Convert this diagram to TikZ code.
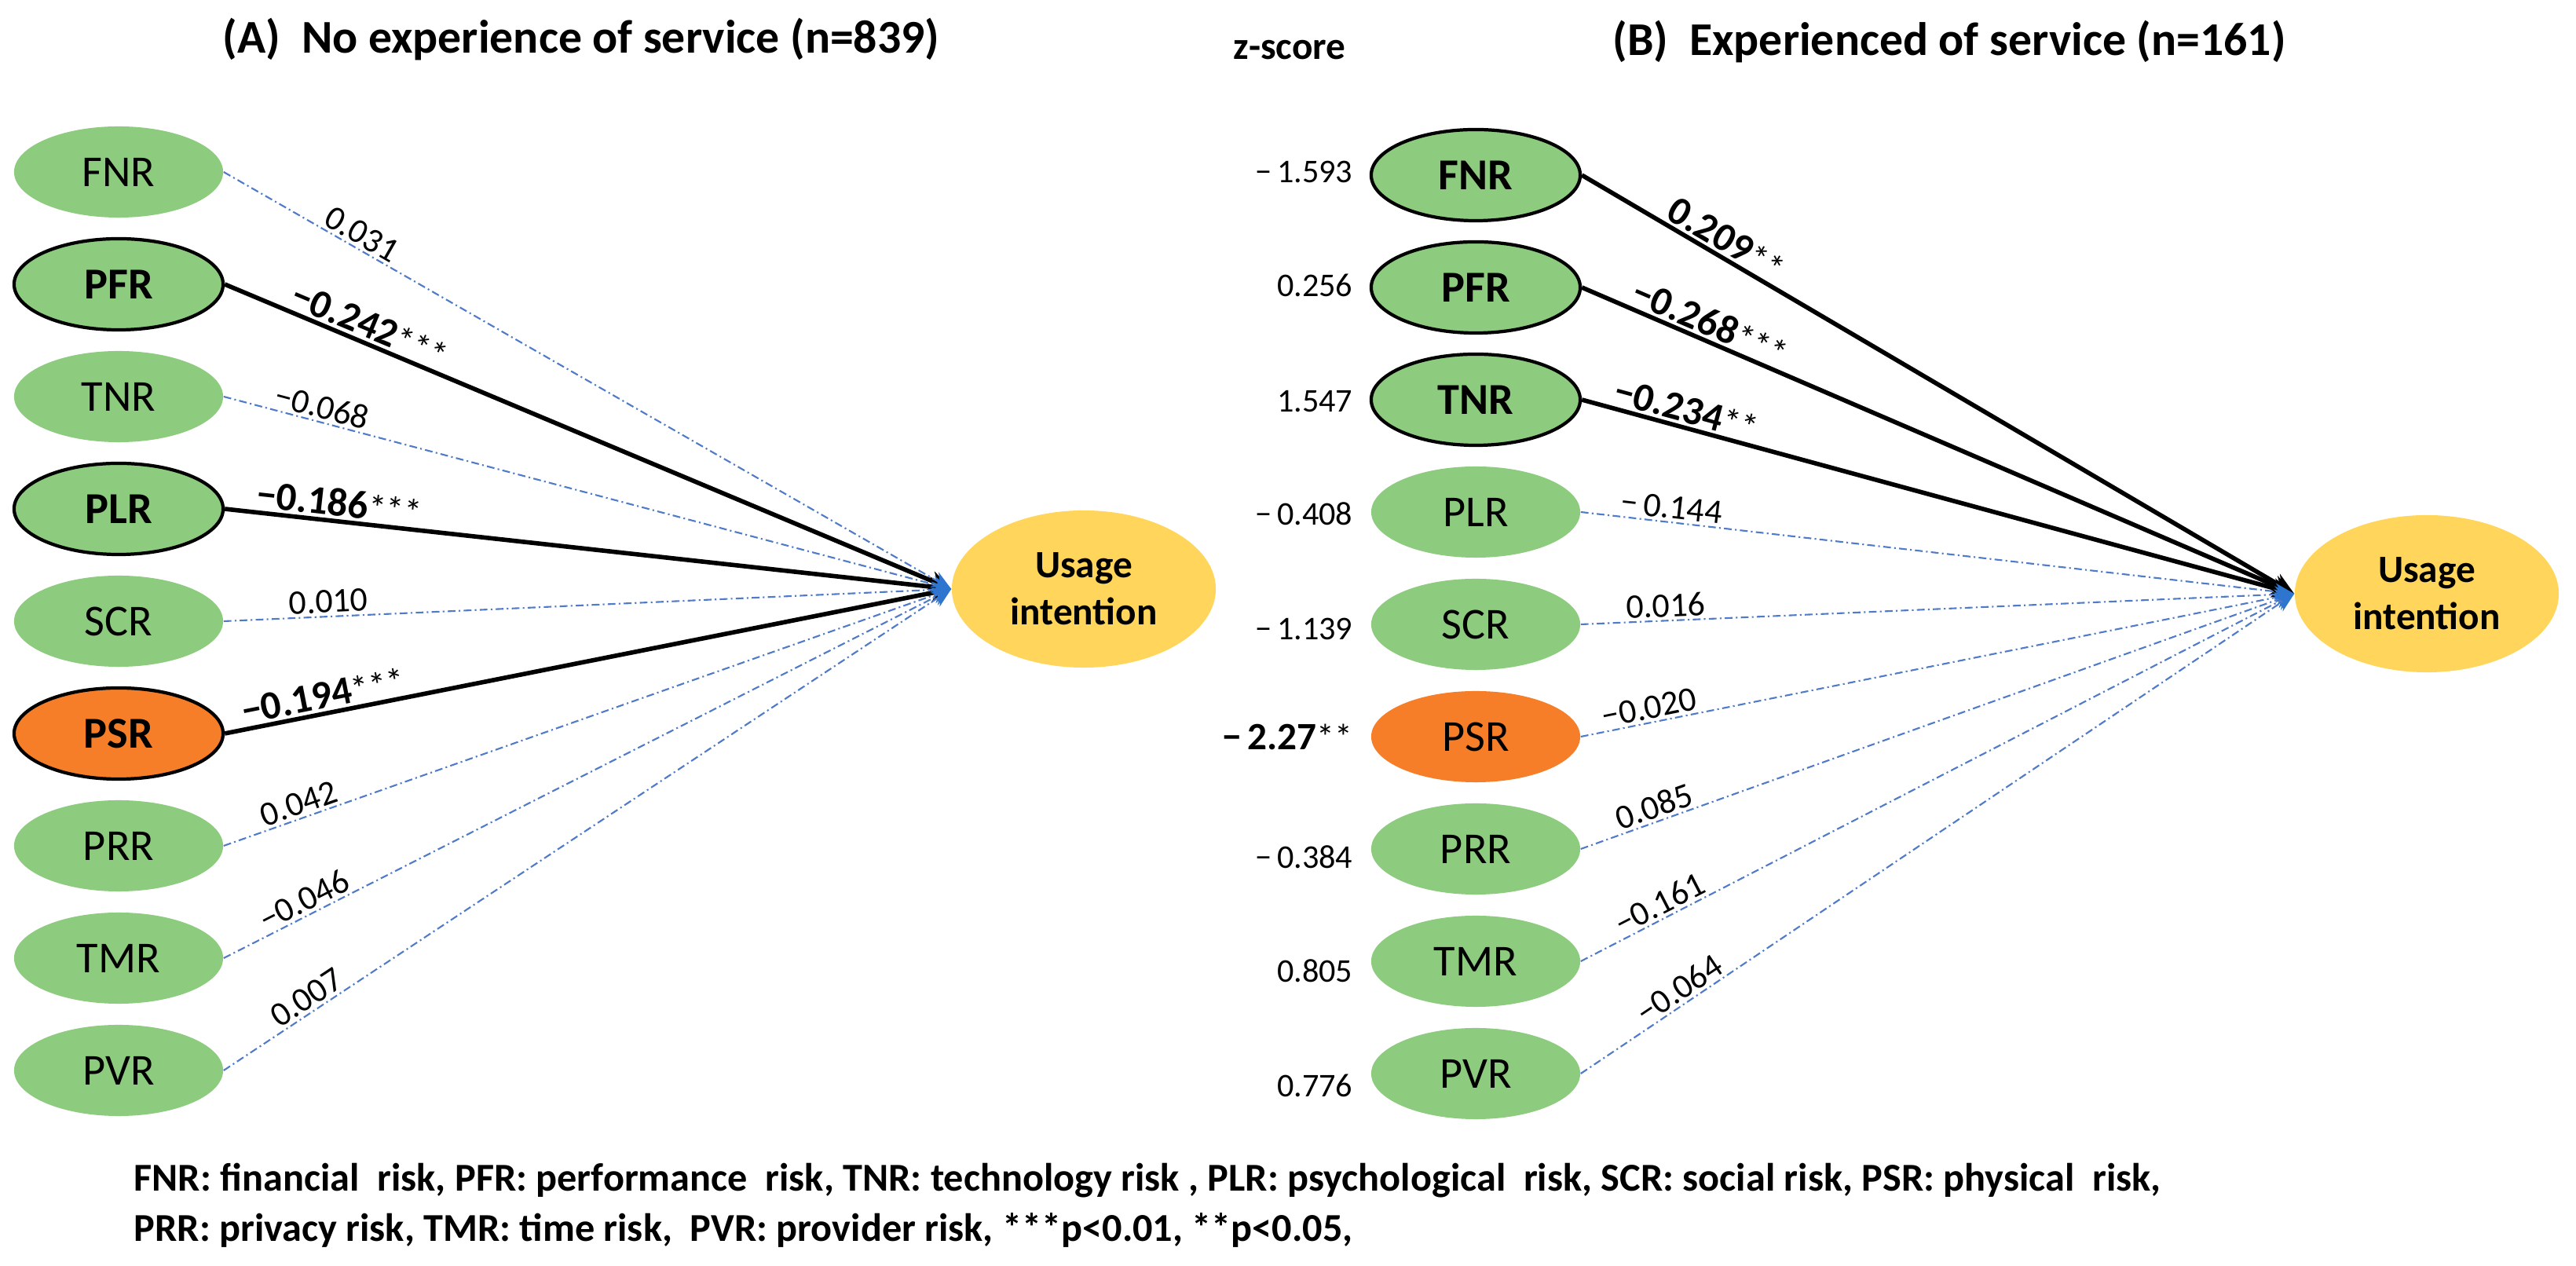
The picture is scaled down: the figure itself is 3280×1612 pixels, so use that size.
\documentclass[tikz,border=0pt]{standalone}
\usepackage{fontspec}
\setmainfont{Carlito}
\usepackage{xcolor}
\usepackage{tikz}
\usetikzlibrary{arrows.meta,shapes.geometric}
\definecolor{riskgreen}{HTML}{8DCB7E}
\definecolor{physorange}{HTML}{F67E28}
\definecolor{uigold}{HTML}{FFD65B}
\definecolor{pathblue}{HTML}{4F7BC8}
\definecolor{tipblue}{HTML}{2E75D0}
\newcommand\sigmark[1]{{\mdseries\fontsize{13}{13}\selectfont#1}}
\tikzset{
  risk/.style={ellipse, fill=riskgreen, minimum width=2.66cm, minimum height=1.16cm, inner sep=0pt, font=\fontsize{16}{16}\selectfont},
  sig/.style={draw=black, line width=1.2pt, font=\bfseries\fontsize{16}{16}\selectfont},
  phys/.style={fill=physorange},
  target/.style={ellipse, fill=uigold, minimum width=3.36cm, minimum height=2.0cm, inner sep=0pt, align=center, font=\bfseries\fontsize{14}{17}\selectfont},
  weak/.style={draw=pathblue, line width=0.6pt, dash pattern=on 2.8pt off 1.2pt on 0.6pt off 1.2pt, -{Stealth[length=7pt,width=6pt,color=tipblue]}},
  strong/.style={draw=black, line width=1.6pt, -{Stealth[length=8pt,width=7pt]}},
  coef/.style={sloped, above, inner sep=1pt, font=\fontsize{12.5}{12.5}\selectfont},
  coefb/.style={sloped, above, inner sep=1pt, font=\bfseries\fontsize{14.5}{14.5}\selectfont},
  zval/.style={anchor=east, inner sep=0pt, font=\fontsize{12}{12}\selectfont},
  ttl/.style={font=\bfseries\fontsize{17}{17}\selectfont},
  foot/.style={anchor=west, align=left, inner sep=0pt, font=\bfseries\fontsize{14.3}{18.2}\selectfont},
}

\begin{document}
\begin{tikzpicture}[x=0.01cm, y=0.01cm]
  \useasboundingbox (0,0) rectangle (3280,1612);
  % titles
  \node[ttl] (titleA) at (740,1562) {(A)\ \ No experience of service (n=839)};
  \node[ttl] (titleB) at (2482,1559) {(B)\ \ Experienced of service (n=161)};
  \node[ttl, font=\bfseries\fontsize{14}{14}\selectfont] (zhead) at (1642,1548) {z-score};

  % (A) no experience
  \node[risk] (FNRa) at (151,1393) {FNR};
  \node[risk, sig] (PFRa) at (151,1250) {PFR};
  \node[risk] (TNRa) at (151,1107) {TNR};
  \node[risk, sig] (PLRa) at (151,964) {PLR};
  \node[risk] (SCRa) at (151,821) {SCR};
  \node[risk, sig, phys] (PSRa) at (151,678) {PSR};
  \node[risk] (PRRa) at (151,535) {PRR};
  \node[risk] (TMRa) at (151,392) {TMR};
  \node[risk] (PVRa) at (151,249) {PVR};
  \node[target] (UIa) at (1380,862) {Usage\\intention};
  \coordinate (tipA) at (UIa.west);

  \draw[strong] (PFRa.east) -- node[coefb, pos=0.19] {−0.242\sigmark{***}} (tipA);
  \draw[strong] (PLRa.east) -- node[coefb, pos=0.155] {−0.186\sigmark{***}} (tipA);
  \draw[strong] (PSRa.east) -- node[coefb, pos=0.14] {−0.194\sigmark{***}} (tipA);
  \draw[weak] (FNRa.east) -- node[coef, pos=0.18] {0.031} (tipA);
  \draw[weak] (TNRa.east) -- node[coef, pos=0.13] {−0.068} (tipA);
  \draw[weak] (SCRa.east) -- node[coef, pos=0.145] {0.010} (tipA);
  \draw[weak] (PRRa.east) -- node[coef, pos=0.11] {0.042} (tipA);
  \draw[weak] (TMRa.east) -- node[coef, pos=0.12] {−0.046} (tipA);
  \draw[weak] (PVRa.east) -- node[coef, pos=0.125] {0.007} (tipA);

  % (B) experienced
  \node[risk, sig] (FNRb) at (1879,1389) {FNR};
  \node[risk, sig] (PFRb) at (1879,1246) {PFR};
  \node[risk, sig] (TNRb) at (1879,1103) {TNR};
  \node[risk] (PLRb) at (1879,960) {PLR};
  \node[risk] (SCRb) at (1879,817) {SCR};
  \node[risk, phys] (PSRb) at (1879,674) {PSR};
  \node[risk] (PRRb) at (1879,531) {PRR};
  \node[risk] (TMRb) at (1879,388) {TMR};
  \node[risk] (PVRb) at (1879,245) {PVR};
  \node[target] (UIb) at (3090,856) {Usage\\intention};
  \coordinate (tipB) at (UIb.west);

  \draw[strong] (FNRb.east) -- node[coefb, pos=0.19] {0.209\sigmark{**}} (tipB);
  \draw[strong] (PFRb.east) -- node[coefb, pos=0.17] {−0.268\sigmark{***}} (tipB);
  \draw[strong] (TNRb.east) -- node[coefb, pos=0.14] {−0.234\sigmark{**}} (tipB);
  \draw[weak] (PLRb.east) -- node[coef, pos=0.125] {−\,0.144} (tipB);
  \draw[weak] (SCRb.east) -- node[coef, pos=0.12] {0.016} (tipB);
  \draw[weak] (PSRb.east) -- node[coef, pos=0.10] {−0.020} (tipB);
  \draw[weak] (PRRb.east) -- node[coef, pos=0.11] {0.085} (tipB);
  \draw[weak] (TMRb.east) -- node[coef, pos=0.12] {−0.161} (tipB);
  \draw[weak] (PVRb.east) -- node[coef, pos=0.15] {−0.064} (tipB);

  % z-scores
  \node[zval] (zFNR) at (1723,1393) {−\,1.593};
  \node[zval] (zPFR) at (1723,1249) {0.256};
  \node[zval] (zTNR) at (1723,1101) {1.547};
  \node[zval] (zPLR) at (1723,958) {−\,0.408};
  \node[zval] (zSCR) at (1723,811) {−\,1.139};
  \node[zval, font=\bfseries\fontsize{14}{14}\selectfont] (zPSR) at (1723,674) {−\,2.27\sigmark{**}};
  \node[zval] (zPRR) at (1723,521) {−\,0.384};
  \node[zval] (zTMR) at (1723,376) {0.805};
  \node[zval] (zPVR) at (1723,230) {0.776};

  % key
  \node[foot] (key) at (170,77) {FNR: financial\ \ risk, PFR: performance\ \ risk, TNR: technology risk , PLR: psychological\ \ risk, SCR: social risk, PSR: physical\ \ risk,\\
    PRR: privacy risk, TMR: time risk,\ \ PVR: provider risk, ***p<0.01, **p<0.05,};
\end{tikzpicture}
\end{document}
